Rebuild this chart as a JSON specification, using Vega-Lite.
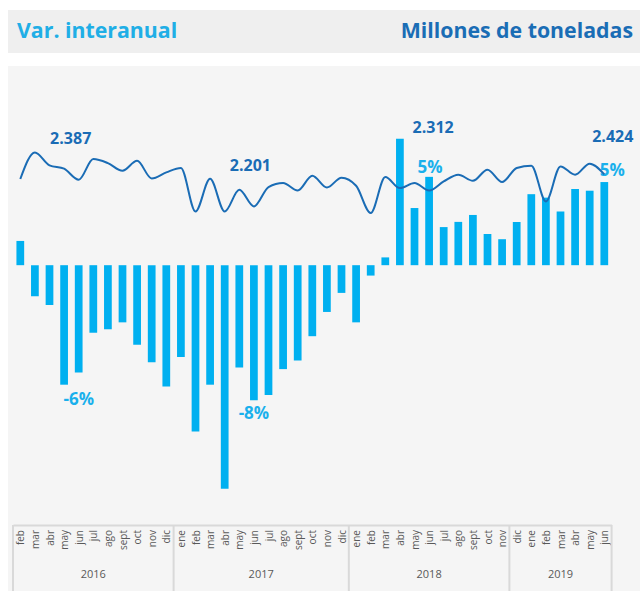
{
  "$schema": "https://vega.github.io/schema/vega-lite/v6.json",
  "padding": {"left": 8, "top": 10, "right": 0, "bottom": 0},
  "background": "#ffffff",
  "spacing": 13,
  "config": {
    "font": "Open Sans",
    "locale": {"number": {"decimal": ".", "thousands": ",", "grouping": [3], "currency": ["$", ""], "minus": "-"}},
    "axis": {"labelFont": "Open Sans"},
    "text": {"font": "Open Sans"}
  },
  "datasets": {
    "titulos": [
      {"lado": "izq", "texto": "Var. interanual"},
      {"lado": "der", "texto": "Millones de toneladas"}
    ],
    "grupos": [
      {"anio": "2016", "mes": "jul 2016", "centro": "banda"},
      {"anio": "2017", "mes": "jul 2017", "centro": "borde"},
      {"anio": "2018", "mes": "jun 2018", "centro": "banda"},
      {"anio": "2019", "mes": "mar 2019", "centro": "banda"}
    ],
    "bordes": [
      {"mes": "feb 2016", "lado": "inicio"},
      {"mes": "ene 2017", "lado": "inicio"},
      {"mes": "ene 2018", "lado": "inicio"},
      {"mes": "dic 2018", "lado": "inicio"},
      {"mes": "jun 2019", "lado": "fin"}
    ],
    "meses": [
      {"mes": "feb 2016", "abrev": "feb", "var": 0.014, "ton": 2.392},
      {"mes": "mar 2016", "abrev": "mar", "var": -0.018, "ton": 2.577},
      {"mes": "abr 2016", "abrev": "abr", "var": -0.023, "ton": 2.487},
      {"mes": "may 2016", "abrev": "may", "var": -0.069, "ton": 2.464},
      {"mes": "jun 2016", "abrev": "jun", "var": -0.062, "ton": 2.387},
      {"mes": "jul 2016", "abrev": "jul", "var": -0.039, "ton": 2.531},
      {"mes": "ago 2016", "abrev": "ago", "var": -0.037, "ton": 2.503},
      {"mes": "sept 2016", "abrev": "sept", "var": -0.033, "ton": 2.450},
      {"mes": "oct 2016", "abrev": "oct", "var": -0.046, "ton": 2.519},
      {"mes": "nov 2016", "abrev": "nov", "var": -0.056, "ton": 2.396},
      {"mes": "dic 2016", "abrev": "dic", "var": -0.070, "ton": 2.438},
      {"mes": "ene 2017", "abrev": "ene", "var": -0.053, "ton": 2.469},
      {"mes": "feb 2017", "abrev": "feb", "var": -0.096, "ton": 2.166},
      {"mes": "mar 2017", "abrev": "mar", "var": -0.069, "ton": 2.394},
      {"mes": "abr 2017", "abrev": "abr", "var": -0.129, "ton": 2.166},
      {"mes": "may 2017", "abrev": "may", "var": -0.059, "ton": 2.317},
      {"mes": "jun 2017", "abrev": "jun", "var": -0.078, "ton": 2.201},
      {"mes": "jul 2017", "abrev": "jul", "var": -0.075, "ton": 2.336},
      {"mes": "ago 2017", "abrev": "ago", "var": -0.060, "ton": 2.364},
      {"mes": "sept 2017", "abrev": "sept", "var": -0.055, "ton": 2.312},
      {"mes": "oct 2017", "abrev": "oct", "var": -0.041, "ton": 2.415},
      {"mes": "nov 2017", "abrev": "nov", "var": -0.027, "ton": 2.333},
      {"mes": "dic 2017", "abrev": "dic", "var": -0.016, "ton": 2.401},
      {"mes": "ene 2018", "abrev": "ene", "var": -0.033, "ton": 2.345},
      {"mes": "feb 2018", "abrev": "feb", "var": -0.006, "ton": 2.155},
      {"mes": "mar 2018", "abrev": "mar", "var": 0.0045, "ton": 2.406},
      {"mes": "abr 2018", "abrev": "abr", "var": 0.073, "ton": 2.329},
      {"mes": "may 2018", "abrev": "may", "var": 0.033, "ton": 2.364},
      {"mes": "jun 2018", "abrev": "jun", "var": 0.051, "ton": 2.312},
      {"mes": "jul 2018", "abrev": "jul", "var": 0.022, "ton": 2.375},
      {"mes": "ago 2018", "abrev": "ago", "var": 0.025, "ton": 2.422},
      {"mes": "sept 2018", "abrev": "sept", "var": 0.029, "ton": 2.380},
      {"mes": "oct 2018", "abrev": "oct", "var": 0.018, "ton": 2.457},
      {"mes": "nov 2018", "abrev": "nov", "var": 0.015, "ton": 2.371},
      {"mes": "dic 2018", "abrev": "dic", "var": 0.025, "ton": 2.469},
      {"mes": "ene 2019", "abrev": "ene", "var": 0.041, "ton": 2.485},
      {"mes": "feb 2019", "abrev": "feb", "var": 0.039, "ton": 2.236},
      {"mes": "mar 2019", "abrev": "mar", "var": 0.031, "ton": 2.480},
      {"mes": "abr 2019", "abrev": "abr", "var": 0.044, "ton": 2.422},
      {"mes": "may 2019", "abrev": "may", "var": 0.043, "ton": 2.499},
      {"mes": "jun 2019", "abrev": "jun", "var": 0.048, "ton": 2.424}
    ]
  },
  "vconcat": [
    {
      "width": 632,
      "height": 43,
      "view": {"fill": "#efefef", "stroke": null},
      "data": {"name": "titulos"},
      "encoding": {
        "x": {"field": "lado", "type": "nominal", "scale": {"type": "point", "domain": ["izq", "der"], "padding": 0}, "axis": null},
        "text": {"field": "texto", "type": "nominal"}
      },
      "layer": [
        {
          "transform": [{"filter": "datum.lado == 'izq'"}],
          "mark": {"type": "text", "align": "left", "baseline": "middle", "dx": 9, "fontSize": 21.3, "fontWeight": "bold", "color": "#20aee6"}
        },
        {
          "transform": [{"filter": "datum.lado == 'der'"}],
          "mark": {"type": "text", "align": "right", "baseline": "middle", "dx": -7, "fontSize": 21.3, "fontWeight": "bold", "color": "#1a6db5"}
        }
      ]
    },
    {
      "spacing": 0,
      "bounds": "flush",
      "vconcat": [
        {
          "width": 632,
          "height": 459,
          "view": {"fill": "#f5f5f5", "stroke": null},
          "data": {"name": "meses"},
          "resolve": {"scale": {"y": "independent"}},
          "layer": [
            {
              "layer": [
                {
                  "mark": {"type": "bar", "color": "#00b0f0", "width": {"band": 0.53}},
                  "encoding": {
                    "x": {
                      "field": "mes", "type": "nominal", "sort": null, "axis": null,
                      "scale": {
                        "domain": ["feb 2016","mar 2016","abr 2016","may 2016","jun 2016","jul 2016","ago 2016","sept 2016","oct 2016","nov 2016","dic 2016","ene 2017","feb 2017","mar 2017","abr 2017","may 2017","jun 2017","jul 2017","ago 2017","sept 2017","oct 2017","nov 2017","dic 2017","ene 2018","feb 2018","mar 2018","abr 2018","may 2018","jun 2018","jul 2018","ago 2018","sept 2018","oct 2018","nov 2018","dic 2018","ene 2019","feb 2019","mar 2019","abr 2019","may 2019","jun 2019"],
                        "range": [5, 603.6], "paddingInner": 0, "paddingOuter": 0
                      }
                    },
                    "y": {"field": "var", "type": "quantitative", "scale": {"domain": [-0.15, 0.115], "nice": false, "zero": false}, "axis": null}
                  }
                },
                {
                  "transform": [{"filter": "datum.mes == 'jun 2016'"}],
                  "mark": {"type": "text", "baseline": "middle", "dx": 0, "dy": 27, "fontSize": 17, "fontWeight": "bold", "color": "#1ab0ec"},
                  "encoding": {
                    "x": {"field": "mes", "type": "nominal", "sort": null, "axis": null},
                    "y": {"field": "var", "type": "quantitative", "axis": null},
                    "text": {"field": "var", "type": "quantitative", "format": ".0%"}
                  }
                },
                {
                  "transform": [{"filter": "datum.mes == 'jun 2017'"}],
                  "mark": {"type": "text", "baseline": "middle", "dx": 0, "dy": 13.5, "fontSize": 17, "fontWeight": "bold", "color": "#1ab0ec"},
                  "encoding": {
                    "x": {"field": "mes", "type": "nominal", "sort": null, "axis": null},
                    "y": {"field": "var", "type": "quantitative", "axis": null},
                    "text": {"field": "var", "type": "quantitative", "format": ".0%"}
                  }
                },
                {
                  "transform": [{"filter": "datum.mes == 'jun 2018'"}],
                  "mark": {"type": "text", "baseline": "middle", "dx": 1, "dy": -9, "fontSize": 17, "fontWeight": "bold", "color": "#1ab0ec"},
                  "encoding": {
                    "x": {"field": "mes", "type": "nominal", "sort": null, "axis": null},
                    "y": {"field": "var", "type": "quantitative", "axis": null},
                    "text": {"field": "var", "type": "quantitative", "format": ".0%"}
                  }
                },
                {
                  "transform": [{"filter": "datum.mes == 'jun 2019'"}],
                  "mark": {"type": "text", "baseline": "middle", "dx": 8, "dy": -11, "fontSize": 17, "fontWeight": "bold", "color": "#1ab0ec"},
                  "encoding": {
                    "x": {"field": "mes", "type": "nominal", "sort": null, "axis": null},
                    "y": {"field": "var", "type": "quantitative", "axis": null},
                    "text": {"field": "var", "type": "quantitative", "format": ".0%"}
                  }
                }
              ]
            },
            {
              "layer": [
                {
                  "mark": {"type": "line", "interpolate": "monotone", "color": "#1a6cb5", "strokeWidth": 2},
                  "encoding": {
                    "x": {"field": "mes", "type": "nominal", "sort": null, "axis": null},
                    "y": {"field": "ton", "type": "quantitative", "scale": {"domain": [-0.02, 3.18], "nice": false, "zero": false}, "axis": null}
                  }
                },
                {
                  "transform": [{"filter": "datum.mes == 'jun 2016'"}],
                  "mark": {"type": "text", "baseline": "middle", "dx": -8, "dy": -40.5, "fontSize": 16, "fontWeight": "bold", "color": "#1a6cb5"},
                  "encoding": {
                    "x": {"field": "mes", "type": "nominal", "sort": null, "axis": null},
                    "y": {"field": "ton", "type": "quantitative", "axis": null},
                    "text": {"field": "ton", "type": "quantitative", "format": ".3f"}
                  }
                },
                {
                  "transform": [{"filter": "datum.mes == 'jun 2017'"}],
                  "mark": {"type": "text", "baseline": "middle", "dx": -3.5, "dy": -40, "fontSize": 16, "fontWeight": "bold", "color": "#1a6cb5"},
                  "encoding": {
                    "x": {"field": "mes", "type": "nominal", "sort": null, "axis": null},
                    "y": {"field": "ton", "type": "quantitative", "axis": null},
                    "text": {"field": "ton", "type": "quantitative", "format": ".3f"}
                  }
                },
                {
                  "transform": [{"filter": "datum.mes == 'jun 2018'"}],
                  "mark": {"type": "text", "baseline": "middle", "dx": 4, "dy": -63, "fontSize": 16, "fontWeight": "bold", "color": "#1a6cb5"},
                  "encoding": {
                    "x": {"field": "mes", "type": "nominal", "sort": null, "axis": null},
                    "y": {"field": "ton", "type": "quantitative", "axis": null},
                    "text": {"field": "ton", "type": "quantitative", "format": ".3f"}
                  }
                },
                {
                  "transform": [{"filter": "datum.mes == 'jun 2019'"}],
                  "mark": {"type": "text", "baseline": "middle", "dx": 8.5, "dy": -37.5, "fontSize": 16, "fontWeight": "bold", "color": "#1a6cb5"},
                  "encoding": {
                    "x": {"field": "mes", "type": "nominal", "sort": null, "axis": null},
                    "y": {"field": "ton", "type": "quantitative", "axis": null},
                    "text": {"field": "ton", "type": "quantitative", "format": ".3f"}
                  }
                }
              ]
            }
          ]
        },
        {
          "width": 632,
          "height": 66,
          "view": {"fill": "#f5f5f5", "stroke": null},
          "layer": [
            {
              "data": {"name": "meses"},
              "mark": {"type": "text", "angle": 270, "align": "right", "baseline": "middle", "dx": 28, "dy": 1, "fontSize": 10, "color": "#595959"},
              "encoding": {
                "x": {
                  "field": "mes", "type": "nominal", "sort": null,
                  "scale": {
                    "domain": ["feb 2016","mar 2016","abr 2016","may 2016","jun 2016","jul 2016","ago 2016","sept 2016","oct 2016","nov 2016","dic 2016","ene 2017","feb 2017","mar 2017","abr 2017","may 2017","jun 2017","jul 2017","ago 2017","sept 2017","oct 2017","nov 2017","dic 2017","ene 2018","feb 2018","mar 2018","abr 2018","may 2018","jun 2018","jul 2018","ago 2018","sept 2018","oct 2018","nov 2018","dic 2018","ene 2019","feb 2019","mar 2019","abr 2019","may 2019","jun 2019"],
                    "range": [5, 603.6], "paddingInner": 0, "paddingOuter": 0
                  },
                  "axis": {"orient": "top", "title": null, "labels": false, "ticks": false, "grid": false, "domain": true, "domainColor": "#d9d9d9", "domainWidth": 2}
                },
                "text": {"field": "abrev", "type": "nominal"}
              }
            },
            {
              "data": {"name": "bordes"},
              "transform": [{"filter": "datum.lado == 'inicio'"}],
              "mark": {"type": "rule", "color": "#d9d9d9", "strokeWidth": 2},
              "encoding": {
                "x": {"field": "mes", "type": "nominal", "sort": null, "bandPosition": 0}
              }
            },
            {
              "data": {"name": "bordes"},
              "transform": [{"filter": "datum.lado == 'fin'"}],
              "mark": {"type": "rule", "color": "#d9d9d9", "strokeWidth": 2},
              "encoding": {
                "x": {"field": "mes", "type": "nominal", "sort": null, "bandPosition": 1}
              }
            },
            {
              "data": {"name": "grupos"},
              "transform": [{"filter": "datum.centro == 'banda'"}],
              "mark": {"type": "text", "baseline": "middle", "dy": 17, "fontSize": 11, "color": "#595959"},
              "encoding": {
                "x": {"field": "mes", "type": "nominal", "sort": null},
                "text": {"field": "anio", "type": "nominal"}
              }
            },
            {
              "data": {"name": "grupos"},
              "transform": [{"filter": "datum.centro == 'borde'"}],
              "mark": {"type": "text", "baseline": "middle", "dy": 17, "fontSize": 11, "color": "#595959"},
              "encoding": {
                "x": {"field": "mes", "type": "nominal", "sort": null, "bandPosition": 0},
                "text": {"field": "anio", "type": "nominal"}
              }
            }
          ]
        }
      ]
    }
  ]
}
